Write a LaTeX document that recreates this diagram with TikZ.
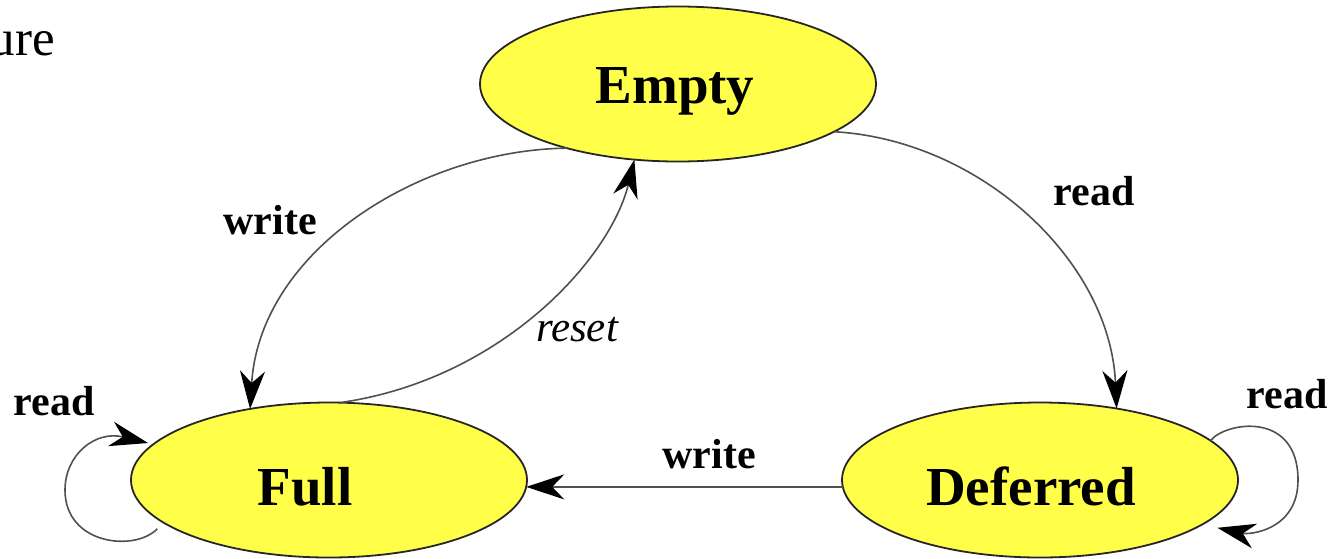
\documentclass[tikz,border=0pt]{standalone}
\usepackage{fontspec}
\setmainfont{Liberation Serif}
\usetikzlibrary{arrows.meta,shapes.geometric}
\definecolor{stateyellow}{RGB}{255,255,74}
\definecolor{edgegray}{RGB}{80,80,80}
\tikzset{
  state/.style={ellipse, draw=black!85, line width=1.8pt, fill=stateyellow,
    minimum width=396pt, minimum height=155pt, inner sep=0pt, outer sep=0pt},
  statetext/.style={anchor=base, font=\bfseries\fontsize{55}{60}\selectfont, inner sep=0pt},
  edgelabel/.style={anchor=base, font=\bfseries\fontsize{42}{46}\selectfont, inner sep=0pt},
  edge/.style={draw=edgegray, line width=1.6pt,
    -{Stealth[length=38pt, width=25pt, inset=12pt, color=black, fill=black]}}
}
\begin{document}
\begin{tikzpicture}[x=1pt, y=-1pt]
\useasboundingbox (0,0) rectangle (1330,558);
\node[anchor=base east, inner sep=0pt, font=\fontsize{51}{56}\selectfont] (caption) at (55,55) {ure};

\node[state] (empty) at (678,84) {};
\node[state] (full) at (329,480) {};
\node[state] (deferred) at (1040,480) {};

\node[statetext] (emptyt) at (675,103) {Empty};
\node[statetext] (fullt) at (305,505) {Full};
\node[statetext] (deferredt) at (1031,505) {Deferred};

\draw[edge] (empty.-17) .. controls (980,140) and (1110,260) .. (deferred.43);
\draw[edge] (empty.-150) .. controls (420,150) and (260,250) .. (full.138);
\draw[edge] (full.82) .. controls (500,380) and (610,260) .. (empty.-120);
\draw[edge] (deferred.182) -- (full.-2);
\draw[edge] ([shift={(-12,3)}]full.196) .. controls (135,552) and (65,545) .. (65,490)
   .. controls (65,455) and (95,430) .. ([shift={(-7,0)}]full.168);
\draw[edge] (deferred.13) .. controls (1225,422) and (1298,410) .. (1298,480)
   .. controls (1298,530) and (1250,535) .. ([shift={(14,4)}]deferred.-15);

\node[edgelabel] (lwrite1) at (270,234) {write};
\node[edgelabel, font=\itshape\fontsize{43}{46}\selectfont] (lreset) at (577,341) {reset};
\node[edgelabel] (lread1) at (1094,205) {read};
\node[edgelabel] (lwrite2) at (709,468) {write};
\node[edgelabel] (lread2) at (54,415) {read};
\node[edgelabel] (lread3) at (1287,408) {read};
\end{tikzpicture}
\end{document}
